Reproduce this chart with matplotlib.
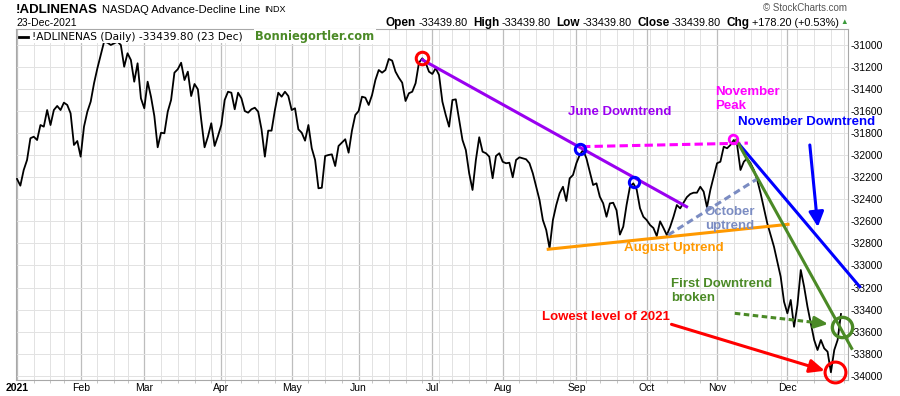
import numpy as np
import pandas as pd
import matplotlib
matplotlib.use('Agg')
import matplotlib.pyplot as plt
from matplotlib.lines import Line2D

plt.rcParams['font.family'] = ['Liberation Sans', 'DejaVu Sans']
plt.rcParams['lines.scale_dashes'] = False

################################### Dati ##########################################
# calendario borsa 2021 (giorni di contrattazione)
holidays = ['2021-01-18', '2021-02-15', '2021-04-02', '2021-05-31',
            '2021-07-05', '2021-09-06', '2021-11-25', '2021-12-24']
month_labels = ['2021', 'Feb', 'Mar', 'Apr', 'May', 'Jun',
                'Jul', 'Aug', 'Sep', 'Oct', 'Nov', 'Dec']

# indice giorno di contrattazione (0 = 4 gen 2021) e valore AD line
adl_day = list(range(0, 25)) + [26, 27, 28] + list(range(30, 247))
adl_val = [-32215, -32276, -32134, -32043, -31846, -31832, -31862, -31726, -31741, -31590,
           -31726, -31590, -31553, -31590, -31523, -31544, -31620, -31907, -31871, -32013,
           -31741, -31605, -31514, -31347, -31211,
           -30970, -30979, -31000,
           -30970, -31000, -31197, -31075, -31136, -31333, -31166, -31484, -31574, -31333,
           -31469, -31644, -31928, -31796, -31801, -31605, -31499, -31251, -31220, -31161,
           -31318, -31242, -31463, -31354, -31402, -31680, -31928, -31832, -31710, -31916,
           -31826, -31726, -31499, -31424, -31433, -31583, -31433, -31484, -31599, -31614,
           -31583, -31569, -31605, -31765, -32013, -31777, -31777, -31590, -31433, -31469,
           -31424, -31463, -31590, -31574, -31765, -31796, -31868, -31726, -31937, -32043,
           -32300, -32295, -32007, -31998, -31992, -32098, -31916, -31886, -31855, -31977,
           -31777, -31635, -31599, -31469, -31478, -31544, -31454, -31318, -31227, -31251,
           -31227, -31127, -31142, -31242, -31297, -31342, -31508, -31438, -31424, -31347,
           -31161, -31121, -31161, -31242, -31263, -31211, -31272, -31514, -31635, -31741,
           -31499, -31493, -31680, -31862, -31953, -32164, -32315, -32043, -31837, -31968,
           -31982, -32013, -32209, -32007, -31982, -32059, -32073, -32068, -32200, -32043,
           -32019, -32028, -32037, -32073, -32164, -32286, -32406, -32588, -32678, -32844,
           -32588, -32452, -32345, -32286, -32415, -32210, -32179, -32073, -31998, -31953,
           -32028, -32149, -32270, -32255, -32376, -32436, -32558, -32437, -32431, -32500,
           -32720, -32648, -32450, -32286, -32255, -32310, -32481, -32558, -32588, -32633,
           -32660, -32733, -32600, -32660, -32724, -32650, -32558, -32452, -32482, -32430,
           -32380, -32352, -32340, -32340, -32286, -32330, -32472, -32315, -32195, -32073,
           -32059, -31923, -31937, -31907, -31862, -31907, -32134, -32059, -32028, -32073,
           -32134, -32225, -32345, -32482, -32618, -32724, -32830, -32966, -33102, -33329,
           -33434, -33313, -33556, -33359, -33041, -33193, -33374, -33525, -33676, -33767,
           -33676, -33752, -33782, -33969, -33767, -33676, -33440]

yticks = np.arange(-34000, -30999, 200)

################################### Calendario ####################################
days = pd.bdate_range('2021-01-04', '2021-12-31')
days = days[~days.isin(pd.to_datetime(holidays))]
month_start = np.flatnonzero(np.r_[True, np.diff(days.month) != 0])
week_num = days.isocalendar().week.values
week_start = np.flatnonzero(np.r_[True, np.diff(week_num) != 0])

################################### Figura ########################################
W, H = 900, 396
fig = plt.figure(figsize=(W/100, H/100), dpi=100)
ax = fig.add_axes([16/W, 1-380/H, 832/W, 351/H])

for w in week_start:
    ax.axvline(w, color='#e2e2e2', lw=0.7, zorder=0)
for m in month_start:
    ax.axvline(m, color='#bdbdbd', lw=0.9, zorder=0)
for yt in yticks:
    ax.axhline(yt, color='#e2e2e2', lw=0.7, zorder=0)

ax.plot(adl_day, adl_val, color='black', lw=1.3, zorder=3)

ax.set_xlim(-0.3, 248.1)
ax.set_ylim(-34039, -30855)

ax.yaxis.tick_right()
ax.set_yticks(yticks)
ax.set_yticklabels([str(v) for v in yticks], fontsize=7.5)
ax.tick_params(axis='y', length=0, pad=2)
ax.set_xticks(month_start)
ax.set_xticklabels(month_labels, fontsize=7.5)
ax.get_xticklabels()[0].set_fontweight('bold')
ax.tick_params(axis='x', length=0, pad=2.5)
ax.set_xticks(week_start, minor=True)
ax.tick_params(axis='x', which='minor', length=2, color='#bbbbbb')
for s in ax.spines.values():
    s.set_color('#a8a8a8')
    s.set_linewidth(0.8)

################################### Annotazioni ###################################
purple, magenta, blue = '#9a00f0', '#ff00ff', '#0000ff'
slate, orange, green, red = '#7b8cc2', '#ff9900', '#4b8a26', '#ff0000'

# linee di tendenza
ax.plot([121.1, 199.9], [-31136, -32467], color=purple, lw=2.2, zorder=4)
ax.plot([158.6, 230.2], [-32853, -32627], color=orange, lw=2.2, zorder=4)
ax.plot([194.4, 221.3], [-32724, -32209], color=slate, lw=2.2, dashes=(5, 3), zorder=4)
ax.plot([168.7, 218.2], [-31922, -31890], color=magenta, lw=2.2, dashes=(6, 3), zorder=4)
ax.plot([215.8, 251.6], [-31907, -33193], color=blue, lw=2.2, zorder=4, clip_on=False)
ax.plot([214.8, 249.2], [-31862, -33752], color=green, lw=2.2, zorder=5, clip_on=False)

# cerchi
circ = dict(marker='o', mfc='none', ls='none', zorder=6, clip_on=False)
ax.plot(120.8, -31122, mec=red, ms=9, mew=2.2, **circ)
ax.plot(168.1, -31943, mec=blue, ms=7.4, mew=2.2, **circ)
ax.plot(184.3, -32243, mec=blue, ms=7.4, mew=2.2, **circ)
ax.plot(213.8, -31855, mec=magenta, ms=6.2, mew=2, **circ)
ax.plot(246.2, -33556, mec=green, ms=14.6, mew=2.4, **circ)
ax.plot(244.2, -33969, mec=red, ms=15, mew=2.2, **circ)

# frecce
ax.annotate('', xy=(239.1, -32651), xytext=(236.7, -31907),
            arrowprops=dict(arrowstyle='-|>,head_length=0.9,head_width=0.45',
                            color=blue, lw=2.2, shrinkA=0, shrinkB=0), zorder=6)
ax.annotate('', xy=(241.2, -33955), xytext=(195.4, -33534),
            arrowprops=dict(arrowstyle='-|>,head_length=0.9,head_width=0.4',
                            color=red, lw=2.2, shrinkA=0, shrinkB=0), zorder=6)
ax.plot([214.3, 238.5], [-33434, -33518], color=green, lw=2.2, dashes=(4, 2.5), zorder=6)
ax.annotate('', xy=(242.2, -33531), xytext=(238.0, -33516),
            arrowprops=dict(arrowstyle='-|>,head_length=0.8,head_width=0.35',
                            color=green, lw=2.2, shrinkA=0, shrinkB=0), zorder=6)

# testi
tx = dict(fontsize=9.5, fontweight='bold', va='center', ha='left', zorder=7)
ax.text(164.5, -31608, 'June Downtrend', color=purple, **tx)
ax.text(208.4, -31489, 'November\nPeak', color=magenta, linespacing=1.25, **tx)
ax.text(215.3, -31696, 'November Downtrend', color=blue, clip_on=False, **tx)
ax.text(205.4, -32580, 'October\nuptrend', color=slate, linespacing=1.25, **tx)
ax.text(181.2, -32839, 'August Uptrend', color=orange, **tx)
ax.text(195.4, -33234, 'First Downtrend\nbroken', color=green, linespacing=1.25, **tx)
ax.text(156.6, -33465, 'Lowest level of 2021', color=red, **tx)

################################### Intestazione ##################################
rend = fig.canvas.get_renderer()

def riga(pezzi, x0, y0, align='left'):
    # pezzi: (testo, fontsize, weight, colore, spazio dopo in px)
    objs, x = [], x0
    for s, fs, fw, col, gap in pezzi:
        t = fig.text(x/W, 1-y0/H, s, fontsize=fs, fontweight=fw, color=col,
                     va='center', ha='left')
        x += t.get_window_extent(rend).width + gap
        objs.append(t)
    if align == 'right':
        shift = (x - x0) / W
        for t in objs:
            t.set_x(t.get_position()[0] - shift)
    return objs

riga([('!ADLINENAS', 9.5, 'bold', 'black', 4),
      ('NASDAQ Advance-Decline Line', 8, 'normal', 'black', 4),
      ('INDX', 6.5, 'normal', 'black', 0)], 16, 10)
fig.text(16/W, 1-22.7/H, '23-Dec-2021', fontsize=7.5, va='center')

riga([('Open', 8.5, 'bold', 'black', 2), ('-33439.80', 7.8, 'normal', 'black', 6),
      ('High', 8.5, 'bold', 'black', 2), ('-33439.80', 7.8, 'normal', 'black', 6),
      ('Low', 8.5, 'bold', 'black', 2), ('-33439.80', 7.8, 'normal', 'black', 6),
      ('Close', 8.5, 'bold', 'black', 2), ('-33439.80', 7.8, 'normal', 'black', 6),
      ('Chg', 8.5, 'bold', 'black', 2), ('+178.20 (+0.53%)', 7.8, 'normal', 'black', 2),
      ('▲', 5.5, 'normal', '#3a9a3a', 0)], 848, 22.7, align='right')
fig.text(847/W, 1-8/H, '© StockCharts.com', fontsize=7, color='#555555',
         va='center', ha='right')

# legenda interna
fig.add_artist(Line2D([19/W, 27.5/W], [1-36.5/H, 1-36.5/H], color='black', lw=2))
fig.text(32/W, 1-36.5/H, '!ADLINENAS (Daily) -33439.80 (23 Dec)', fontsize=7.7,
         family='DejaVu Sans', va='center',
         bbox=dict(facecolor='white', edgecolor='none', pad=1))
fig.text(255/W, 1-36.5/H, 'Bonniegortler.com', fontsize=8.3, fontweight='bold',
         color='#4b8a26', family='DejaVu Sans', va='center',
         bbox=dict(facecolor='white', edgecolor='none', pad=1))

plt.savefig('out.png', dpi=100)
